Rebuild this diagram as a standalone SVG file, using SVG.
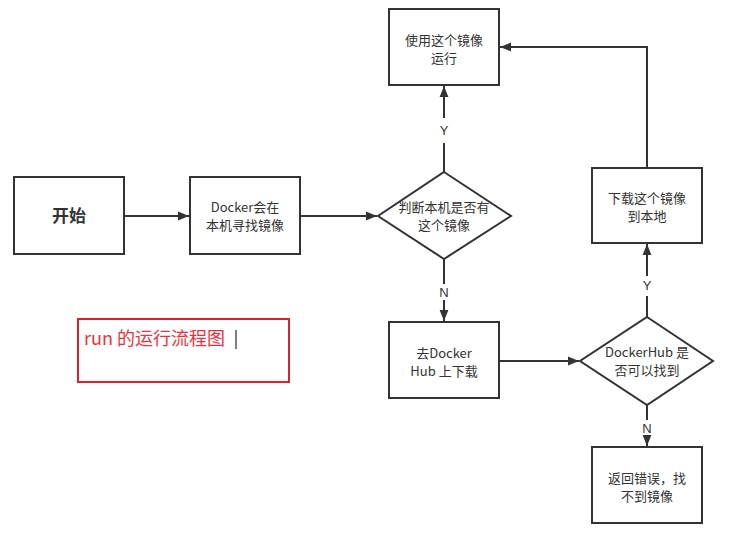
<svg xmlns="http://www.w3.org/2000/svg" width="737" height="534" viewBox="0 0 737 534">
<style>
.b{fill:#fff;stroke:#333;stroke-width:2}
.t{font-family:"Noto Sans CJK SC",sans-serif;font-size:13px;fill:#333;text-anchor:middle}
.l{font-family:"Liberation Sans",sans-serif;font-size:13px;fill:#333;text-anchor:middle}
.c{fill:none;stroke:#333;stroke-width:2}
</style>
<defs>
<marker id="m" viewBox="0 0 10 10" refX="10" refY="5" markerWidth="11" markerHeight="11" orient="auto" markerUnits="userSpaceOnUse"><path d="M0,1L10,5L0,9z" fill="#333"/></marker></defs>
<rect width="737" height="534" fill="#fff"/>
<g id="connectors">
<path class="c" d="M124,216H189" marker-end="url(#m)"/>
<path class="c" d="M300,216H377" marker-end="url(#m)"/>
<path class="c" d="M444,172V143M444,118V86" marker-end="url(#m)"/>
<path class="c" d="M444,259V284M444,300V321" marker-end="url(#m)"/>
<path class="c" d="M499,361H579" marker-end="url(#m)"/>
<path class="c" d="M647,317V296M647,276V244" marker-end="url(#m)"/>
<path class="c" d="M647,405V420M647,436V446" marker-end="url(#m)"/>
<path class="c" d="M647,168V47H500" marker-end="url(#m)"/>
<text class="l" x="444" y="135">Y</text>
<text class="l" x="444" y="297">N</text>
<text class="l" x="647" y="290">Y</text>
<text class="l" x="647" y="433">N</text>
</g>
<g id="start"><rect class="b" x="14" y="177" width="110" height="77"/><text class="t" x="69" y="222" style="font-size:17px;font-weight:bold">开始</text></g>
<g id="search"><rect class="b" x="190" y="177" width="110" height="77"/><text class="t" x="245" y="212">Docker会在</text><text class="t" x="245" y="230">本机寻找镜像</text></g>
<g id="check"><path class="b" d="M444,172L511,216L444,259L378,216z"/><text class="t" x="444" y="212">判断本机是否有</text><text class="t" x="444" y="230">这个镜像</text></g>
<g id="run"><rect class="b" x="389" y="9" width="110" height="76"/><text class="t" x="444" y="45">使用这个镜像</text><text class="t" x="444" y="63">运行</text></g>
<g id="hub"><rect class="b" x="389" y="322" width="110" height="76"/><text class="t" x="444" y="358">去Docker</text><text class="t" x="444" y="376">Hub 上下载</text></g>
<g id="found"><path class="b" d="M647,317L713,361L647,405L580,361z"/><text class="t" x="647" y="357">DockerHub 是</text><text class="t" x="647" y="375">否可以找到</text></g>
<g id="download"><rect class="b" x="592" y="168" width="110" height="75"/><text class="t" x="647" y="203">下载这个镜像</text><text class="t" x="647" y="221">到本地</text></g>
<g id="error"><rect class="b" x="592" y="447" width="110" height="76"/><text class="t" x="647" y="483">返回错误，找</text><text class="t" x="647" y="501">不到镜像</text></g>
<g id="note"><rect x="78" y="319" width="211" height="63" fill="none" stroke="#d9232b" stroke-width="2"/><text x="84" y="345" style="font-family:'Noto Sans CJK SC',sans-serif;font-size:18px;fill:#e8333c">run 的运行流程图</text><path d="M236,330V349" stroke="#000" stroke-width="1"/></g>
</svg>
